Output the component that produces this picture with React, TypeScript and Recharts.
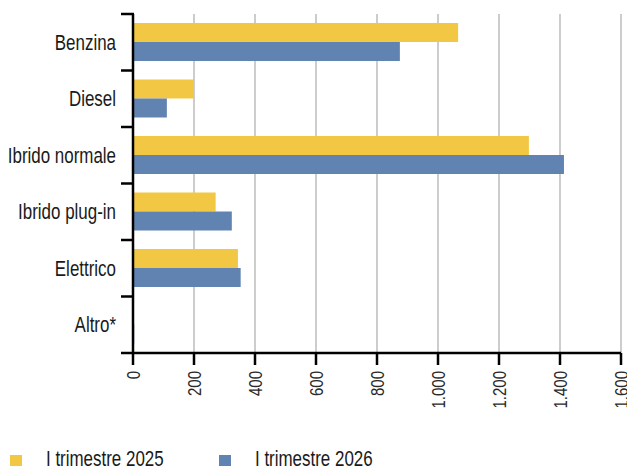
import React from "react";
import { BarChart, Bar, XAxis, YAxis, CartesianGrid, Legend } from "recharts";

const categories = ["Benzina", "Diesel", "Ibrido normale", "Ibrido plug-in", "Elettrico", "Altro*"];
const q1_2025 = [1066, 200, 1298, 271, 344, 1];
const q1_2026 = [875, 111, 1413, 324, 353, 4];
const xTicks = [0, 200, 400, 600, 800, 1000, 1200, 1400, 1600];
const seriesNames = ["I trimestre 2025", "I trimestre 2026"];

const data = categories.map((c, i) => ({ name: c, a: q1_2025[i], b: q1_2026[i] }));

const FONT = "'Liberation Sans', Arial, sans-serif";
const SQUEEZE = 0.77;
const YELLOW = "#F2C744";
const BLUE = "#6083B1";
const GRID = "#c0c0c0";
const seriesColors = [YELLOW, BLUE];

const fmt = (v: number) => v.toLocaleString("de-DE");

const XTick = (props: any) => {
  const { x, y, payload } = props;
  return (
    <text
      transform={`translate(${x}, ${y + 4}) rotate(-90) scale(0.79, 1)`}
      x={0}
      y={0}
      textAnchor="end"
      dy="0.36em"
      fontFamily={FONT}
      fontSize={19}
      fill="#2a2a2a"
    >
      {fmt(payload.value)}
    </text>
  );
};

const YTick = (props: any) => {
  const { x, y, payload, index, visibleTicksCount } = props;
  const off = payload.offset || 28.25;
  const isLast = index === visibleTicksCount - 1;
  return (
    <g>
      <line x1={x + 5} x2={x + 18} y1={y - off} y2={y - off} stroke="#000" strokeWidth={2.5} />
      {isLast && (
        <line x1={x + 5} x2={x + 18} y1={y + off} y2={y + off} stroke="#000" strokeWidth={2.5} />
      )}
      <text
        transform={`translate(${x}, ${y}) scale(${SQUEEZE}, 1)`}
        x={0}
        y={0}
        dy="0.35em"
        textAnchor="end"
        fontFamily={FONT}
        fontSize={22}
        fill="#1a1a1a"
      >
        {payload.value}
      </text>
    </g>
  );
};

const legendPos = [
  { sq: 10, tx: 46 },
  { sq: 219, tx: 255 },
];

const LegendContent = () => (
  <svg width={627} height={30} style={{ display: "block", overflow: "visible" }}>
    {seriesNames.map((n, i) => (
      <g key={n}>
        <rect x={legendPos[i].sq} y={16} width={12} height={11} fill={seriesColors[i]} />
        <text
          transform={`translate(${legendPos[i].tx}, 27) scale(${SQUEEZE}, 1)`}
          x={0}
          y={0}
          fontFamily={FONT}
          fontSize={22}
          fill="#1a1a1a"
        >
          {n}
        </text>
      </g>
    ))}
  </svg>
);

export default function App() {
  return (
    <div style={{ position: "absolute", left: 0, top: 0, width: 627, height: 469, background: "#fff" }}>
      <BarChart
        width={627}
        height={469}
        data={data}
        layout="vertical"
        margin={{ top: 14, right: 6, bottom: 0, left: 0 }}
        barGap={0}
        barCategoryGap="17.5%"
      >
        <CartesianGrid horizontal={false} stroke={GRID} strokeWidth={1.6} />
        <XAxis
          xAxisId="top"
          orientation="top"
          type="number"
          domain={[0, 1600]}
          height={0}
          tick={false}
          tickLine={false}
          axisLine={{ stroke: GRID, strokeWidth: 1.6 }}
        />
        <XAxis
          type="number"
          domain={[0, 1600]}
          ticks={xTicks}
          interval={0}
          height={86}
          tickSize={12}
          tickMargin={2}
          tickLine={{ stroke: "#000", strokeWidth: 2.5 }}
          axisLine={{ stroke: "#000", strokeWidth: 2.5 }}
          tick={<XTick />}
        />
        <YAxis
          type="category"
          dataKey="name"
          width={133}
          tickSize={12}
          tickMargin={5}
          tickLine={false}
          axisLine={{ stroke: "#000", strokeWidth: 2.5 }}
          tick={<YTick />}
          interval={0}
        />
        <Legend verticalAlign="bottom" align="left" height={30} wrapperStyle={{ left: 0, bottom: 0 }} content={<LegendContent />} />
        <Bar dataKey="a" name={seriesNames[0]} fill={YELLOW} barSize={19} isAnimationActive={false} />
        <Bar dataKey="b" name={seriesNames[1]} fill={BLUE} barSize={19} isAnimationActive={false} />
      </BarChart>
    </div>
  );
}
